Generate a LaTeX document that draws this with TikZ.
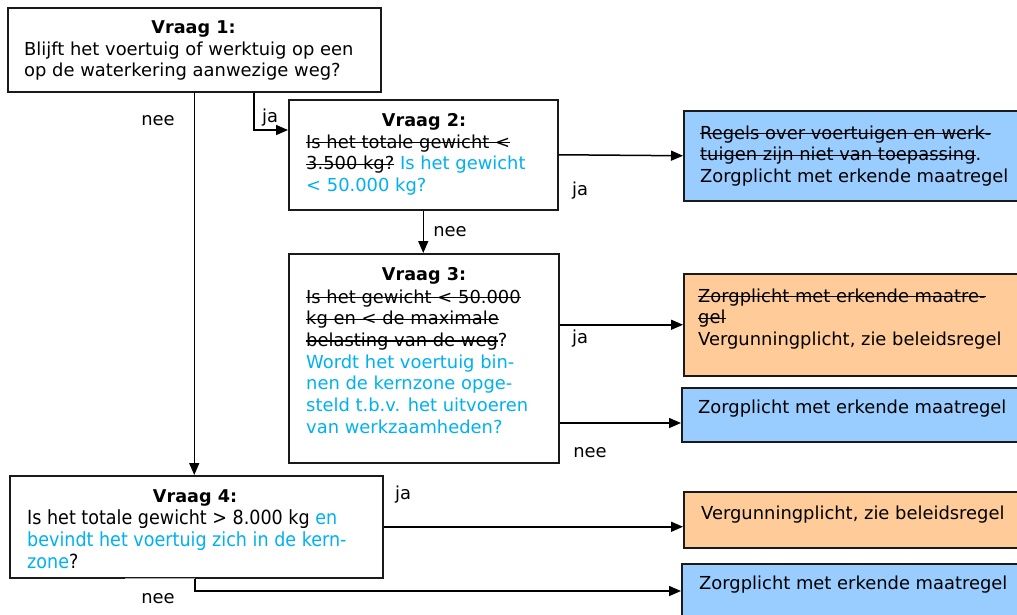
\documentclass[tikz,border=0pt]{standalone}
\usepackage{fontspec}
\setmainfont{DejaVu Sans}
\newfontfamily\narrowfont[FakeStretch=0.9]{DejaVu Sans}
\usetikzlibrary{arrows.meta}
\definecolor{txtblue}{HTML}{00B0F0}
\definecolor{fillblue}{HTML}{99CCFF}
\definecolor{fillorange}{HTML}{FFCC99}
\definecolor{edgecol}{HTML}{1A1A1A}
\newcommand{\nb}[1]{\textcolor{txtblue}{#1}}
\newsavebox\soboxx
\newcommand{\so}[1]{\leavevmode\sbox\soboxx{#1}\rlap{\rule[0.27em]{\wd\soboxx}{1.2pt}}\usebox\soboxx}
\tikzset{
  qbox/.style={draw=edgecol, line width=1.5pt, anchor=north west, inner sep=0pt},
  bluebox/.style={qbox, fill=fillblue},
  orangebox/.style={qbox, fill=fillorange},
  title/.style={anchor=base, inner sep=0pt, font=\fontsize{17.6}{21.7}\selectfont\bfseries},
  body/.style={anchor=base west, inner sep=0pt},
  lbl/.style={anchor=base, inner sep=0pt},
  conn/.style={draw=black, line width=1.5pt, -{Triangle[length=12pt,width=10pt]}}
}
\begin{document}
\begin{tikzpicture}[x=1pt, y=-1pt, font=\fontsize{17.9}{21.7}\selectfont]
\useasboundingbox (0,0) rectangle (1017,614);
\clip (0,0) rectangle (1017,614);
% boxes
\node[qbox, minimum width=373pt, minimum height=84pt] (q1) at (7,7) {};
\node[qbox, minimum width=269pt, minimum height=110pt] (q2) at (288,99) {};
\node[qbox, minimum width=270pt, minimum height=209pt] (q3) at (288,253) {};
\node[qbox, minimum width=373pt, minimum height=102pt] (q4) at (9,475) {};
\node[bluebox, minimum width=345pt, minimum height=90pt] (bl1) at (683,110) {};
\node[orangebox, minimum width=345pt, minimum height=102pt] (or1) at (683,273) {};
\node[bluebox, minimum width=345pt, minimum height=54pt] (bl2) at (681,387) {};
\node[orangebox, minimum width=345pt, minimum height=56pt] (or2) at (683,491) {};
\node[bluebox, minimum width=345pt, minimum height=70pt] (bl3) at (681,563) {};
% faint part of the bottom edge of Vraag 4
\draw[white, line width=2pt] (q4.south west) ++(116,0) -- ++(70,0);
\draw[gray!70, line width=0.7pt] (q4.south west) ++(116,0) -- ++(70,0);
% texts
\node[title] (t1) at (193.5,33) {Vraag 1:};
\node[body] (x1) at (24,55) {\parbox[t]{400pt}{Blijft het voertuig of werktuig op een\\op de waterkering aanwezige weg?}};
\node[title] (t2) at (424,126) {Vraag 2:};
\node[body] (x2) at (306,148) {\parbox[t]{400pt}{\so{Is het totale gewicht <}\\\so{3.500 kg?} \nb{Is het gewicht}\\\nb{< 50.000 kg?}}};
\node[title] (t3) at (424,280) {Vraag 3:};
\node[body] (x3) at (306,303) {\parbox[t]{400pt}{\so{Is het gewicht < 50.000}\\\so{kg en < de maximale}\\\so{belasting van de weg}?\\\nb{Wordt het voertuig bin-}\\\nb{nen de kernzone opge-}\\\nb{steld t.b.v. het uitvoeren}\\\nb{van werkzaamheden?}}};
\node[title] (t4) at (195,502) {Vraag 4:};
\node[body] (x4) at (27,524) {\parbox[t]{400pt}{\fontsize{19.5}{22}\narrowfont Is het totale gewicht > 8.000 kg \nb{en}\\\nb{bevindt het voertuig zich in de kern-}\\\nb{zone}?}};
\node[body] (y1) at (700,139) {\parbox[t]{400pt}{\so{Regels over voertuigen en werk-}\\\so{tuigen zijn niet van toepassing}.\\Zorgplicht met erkende maatregel}};
\node[body] (y2) at (698,302) {\parbox[t]{400pt}{\so{Zorgplicht met erkende maatre-}\\\so{gel}\\Vergunningplicht, zie beleidsregel}};
\node[body] (y3) at (698,413) {Zorgplicht met erkende maatregel};
\node[body] (y4) at (701,519) {Vergunningplicht, zie beleidsregel};
\node[body] (y5) at (699,589) {Zorgplicht met erkende maatregel};
% connectors
\coordinate (j1) at (254,130);
\coordinate (k3) at (0,423);
\coordinate (k4) at (195,591);
\draw[conn] (q1.south) -- (q1.south |- q4.north);
\draw[conn] (q1.south -| j1) |- (q2.west |- j1);
\draw[conn] (q2.east) -- (bl1.west);
\draw[conn] (q2.south) -- (q2.south |- q3.north);
\draw[conn] (q3.east |- or1.west) -- (or1.west);
\draw[conn] (q3.east |- k3) -- (bl2.west |- k3);
\draw[conn] (q4.east) -- (q4.east -| or2.west);
\draw[conn] (q4.south -| k4) |- (bl3.west |- k4);
% labels
\node[lbl] (l1) at (158,125) {nee};
\node[lbl] (l2) at (270,122) {ja};
\node[lbl] (l3) at (580,195) {ja};
\node[lbl] (l4) at (450,236) {nee};
\node[lbl] (l5) at (580,343) {ja};
\node[lbl] (l6) at (590,457) {nee};
\node[lbl] (l7) at (403,499) {ja};
\node[lbl] (l8) at (158,603) {nee};
\end{tikzpicture}
\end{document}
